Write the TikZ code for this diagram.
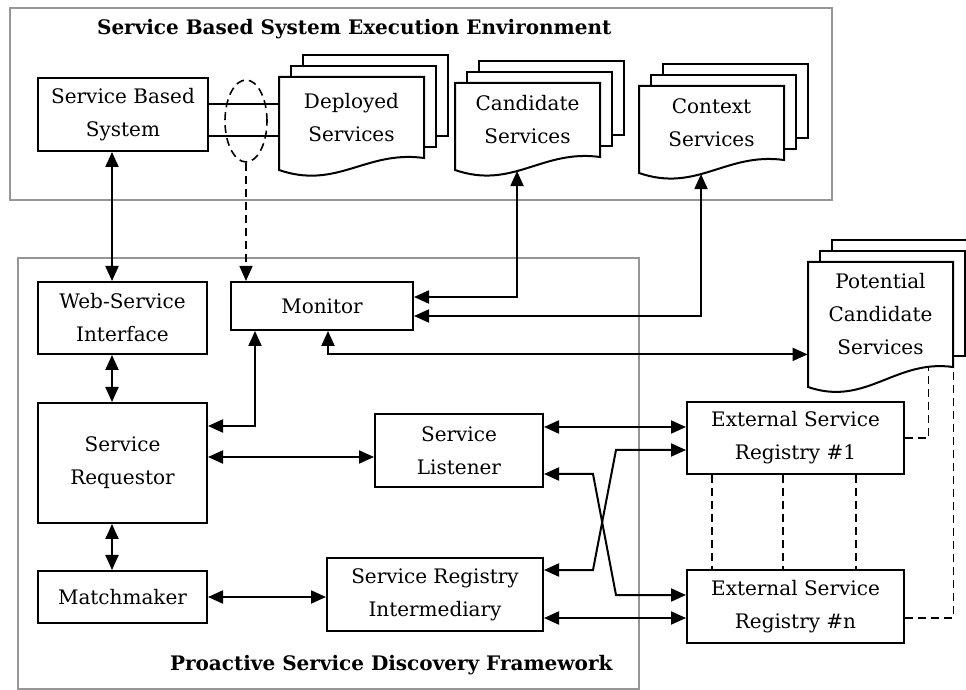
\documentclass[tikz,border=0pt]{standalone}
\usepackage{fontspec}
\setmainfont{DejaVu Serif}
\usepackage{tikz}
\usetikzlibrary{arrows.meta,shapes.geometric}
\definecolor{framegray}{RGB}{150,150,150}

% pilha de documentos: nome, x, y, altura dir., altura esq., texto
\newcommand{\docstack}[6]{%
  \begin{scope}[shift={(#2,#3)}]
    \draw[doc] (24,-22) rectangle ++(145,#4);
    \draw[doc] (12,-11) rectangle ++(145,#4);
    \draw[doc] (145,#4) -- (145,0) -- (0,0) -- (0,#5)
      .. controls (58,#5+20) and (87,#4-8) .. (145,#4)
      coordinate[pos=0.42] (#1-w) coordinate[pos=0.85] (#1-r) -- cycle;
    \node[minimum width=72.5pt, minimum height=#4*0.5pt, inner sep=0pt, align=center] (#1) at (72.5,#4/2) {#6};
  \end{scope}}

\begin{document}
\begin{tikzpicture}[x=0.5pt, y=-0.5pt,
  font=\fontsize{10}{16.5}\selectfont,
  >={Triangle[length=7.5pt,width=6.5pt]},
  box/.style={draw, line width=1pt, align=center},
  doc/.style={draw, line width=1pt, fill=white},
  frame/.style={draw=framegray, line width=1pt},
  lnk/.style={<->, line width=1pt},
  dsh/.style={line width=0.8pt, dash pattern=on 4pt off 2.5pt},
  title/.style={anchor=base west, font=\fontsize{10}{12}\selectfont\bfseries}]

\useasboundingbox (0,0) rectangle (966,690);

% ambiente de execução
\draw[frame] (10,8) rectangle (832,200);
\node[title] (envtitle) at (90,35) {Service Based System Execution Environment};

% framework de descoberta
\draw[frame] (18,258) rectangle (639,689);
\node[title] (fwtitle) at (163,670) {Proactive Service Discovery Framework};

% serviços
\docstack{dep}{279}{77}{81}{93}{Deployed\\Services}
\docstack{cand}{455}{83}{74}{87}{Candidate\\Services}
\docstack{ctx}{639}{86}{74}{87}{Context\\Services}
\docstack{pot}{808}{262}{105}{125}{Potential\\Candidate\\Services}

% componentes
\node[box, minimum width=85pt, minimum height=36.5pt] (sbs) at (123,114.5) {Service Based\\System};
\node[box, minimum width=84.5pt, minimum height=36pt] (web) at (122.5,318) {Web-Service\\Interface};
\node[box, minimum width=84.5pt, minimum height=60pt] (req) at (122.5,463) {Service\\Requestor};
\node[box, minimum width=84.5pt, minimum height=26pt] (match) at (122.5,597) {Matchmaker};
\node[box, minimum width=91pt, minimum height=24pt] (mon) at (322,306) {Monitor};
\node[box, minimum width=84pt, minimum height=36.5pt] (list) at (459,450.5) {Service\\Listener};
\node[box, minimum width=108pt, minimum height=36.5pt] (sri) at (435,594.5) {Service Registry\\Intermediary};
\node[box, minimum width=108.5pt, minimum height=36pt] (esr1) at (795.5,438) {External Service\\Registry \#1};
\node[box, minimum width=108.5pt, minimum height=36.5pt] (esrn) at (795.5,606.5) {External Service\\Registry \#n};

% ligação observada
\draw[line width=1pt] ([yshift=5.25pt]sbs.east) -- ([yshift=5.25pt]sbs.east -| dep.west);
\draw[line width=1pt] ([yshift=-10.75pt]sbs.east) -- ([yshift=-10.75pt]sbs.east -| dep.west);
\node[draw, dsh, ellipse, minimum width=21pt, minimum height=41pt, inner sep=0pt] (ell) at (246,121) {};
\draw[dsh, ->] (ell.south) -- (ell.south |- mon.north);

% lado esquerdo
\draw[lnk] ([xshift=-5.5pt]sbs.south) -- ([xshift=-5.5pt]sbs.south |- web.north);
\draw[lnk] ([xshift=-5.25pt]web.south) -- ([xshift=-5.25pt]web.south |- req.north);
\draw[lnk] ([xshift=-5.25pt]req.south) -- ([xshift=-5.25pt]req.south |- match.north);

% monitor
\draw[lnk] ([xshift=-33.5pt]mon.south) |- ([yshift=18.5pt]req.east);
\draw[lnk] (cand-w) |- ([yshift=4.5pt]mon.east);
\draw[lnk] (ctx-w) |- ([yshift=-5pt]mon.east);
\draw[lnk] ([xshift=3pt]mon.south) |- ([yshift=6.5pt]pot.south west);

% requestor e intermediário
\draw[lnk] ([yshift=3pt]req.east) -- ([yshift=3pt]req.east -| list.west);
\draw[lnk] (match.east) -- (match.east -| sri.west);

% registos externos
\draw[lnk] ([yshift=11.75pt]list.east) -- ([yshift=11.75pt]list.east -| esr1.west);
\draw[lnk] ([yshift=-11.75pt]list.east) -- ++(49,0) -- ++(23,121) -- ([yshift=5.75pt]esrn.west);
\draw[lnk] ([yshift=12.25pt]sri.east) -- ++(49,0) -- ++(23,-120) -- ([yshift=-6pt]esr1.west);
\draw[lnk] ([yshift=-11.75pt]sri.east) -- ([yshift=-11.75pt]sri.east -| esrn.west);

% ligações tracejadas
\foreach \dx in {-41.75,-6.25,30.25}
  \draw[dsh] ([xshift=\dx pt]esr1.south) -- ([xshift=\dx pt]esrn.north);
\draw[dsh] (esr1.east) -| (pot-r);
\draw[dsh] ([yshift=-5.75pt]esrn.east) -| (pot.south east);

\end{tikzpicture}
\end{document}
